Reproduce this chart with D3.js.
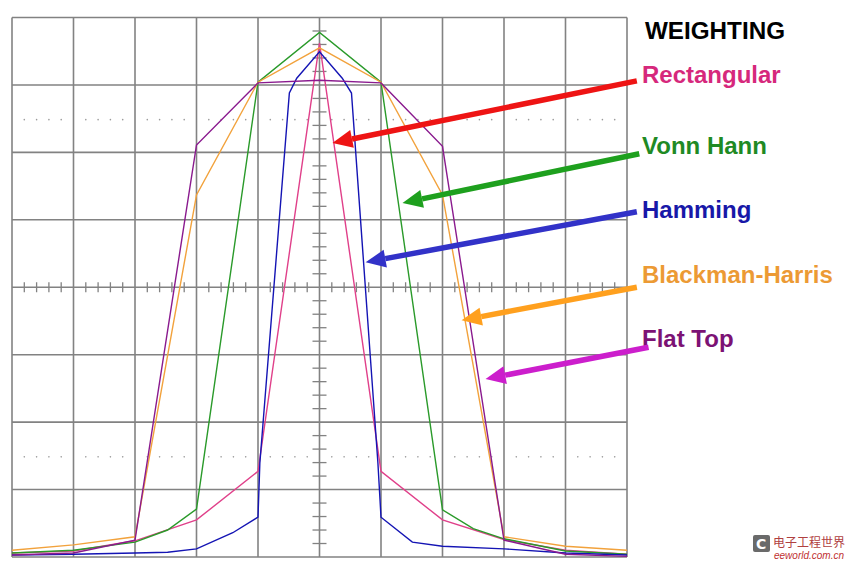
<!DOCTYPE html>
<html>
<head>
<meta charset="utf-8">
<script src="https://cdn.jsdelivr.net/npm/d3@7"></script>
<style>
    html, body { margin: 0; padding: 0; background: #fff; }
    svg { display: block; }
</style>
</head>
<body>
<svg id="chart" width="850" height="569"></svg>
<script>
(function() {
    "use strict";

    // window responses, x in bins from centre, y in tenths of a division
    var rectangular = [[-5, 0.6], [-4, 0.9], [-3, 2.4], [-2, 5.5], [-1, 12.7], [0, 76.2],
        [1, 12.7], [2, 5.5], [3, 2.6], [4, 1.0], [5, 0.4]];
    var vonnHann = [[-5, 0.6], [-4, 1.0], [-3, 2.2], [-2.47, 4.0], [-2, 7.1], [-1, 70.4], [0, 77.8],
        [1, 70.4], [2, 7.0], [2.5, 4.2], [3, 2.7], [4, 0.9], [5, 0.4]];
    var hamming = [[-5, 0.3], [-4, 0.4], [-3, 0.6], [-2.47, 0.7], [-2, 1.2], [-1.41, 3.6], [-1, 5.9],
        [-0.97, 13.9], [-0.49, 68.8], [-0.37, 71.0], [0, 74.9], [0.37, 71.0], [0.52, 68.8],
        [0.95, 13.9], [1, 5.9], [1.51, 2.2], [2, 1.6], [3, 1.2], [4, 0.6], [5, 0.3]];
    var blackmanHarris = [[-5, 1.0], [-4, 1.8], [-3, 3.0], [-2, 53.7], [-1, 70.4], [0, 75.5],
        [1, 70.4], [2, 53.7], [3, 3.0], [4, 1.6], [5, 1.0]];
    var flatTop = [[-5, 0.3], [-4, 0.6], [-3, 2.5], [-2, 61.1], [-1, 70.3], [0, 70.7],
        [1, 70.3], [2, 60.9], [3, 2.5], [4, 0.4], [5, 0.1]];

    var seriesNames = ['Rectangular', 'Vonn Hann', 'Hamming', 'Blackman-Harris', 'Flat Top'];
    var seriesData = [rectangular, vonnHann, hamming, blackmanHarris, flatTop];
    var lineColors = ['#e0408a', '#2a9a2a', '#1414b4', '#f2a23c', '#8a1a8e'];
    var textColors = ['#d6287c', '#1f8a24', '#1818a8', '#ec9a34', '#7c1274'];
    var arrowColors = ['#ee1414', '#1ea01e', '#3232c8', '#ffa01e', '#cc1ecc'];
    // arrow tail/tip in data space [x, y]
    var arrowTails = [[5.16, 70.6], [5.2, 59.8], [5.16, 51.2], [5.16, 40.0], [5.35, 31.1]];
    var arrowTips = [[0.21, 61.4], [1.35, 52.5], [0.75, 43.7], [2.31, 35.1], [2.7, 26.4]];

    var xDivs = d3.range(-5, 6);
    var yDivs = d3.range(0, 90, 10);

    var svg = d3.select('#chart');
    var x = d3.scaleLinear().domain([-5, 5]).range([12, 627]);
    var y = d3.scaleLinear().domain([0, 80]).range([557, 17.5]);

    var grid = svg.append('g').attr('class', 'grid');
    grid.selectAll('line.v').data(xDivs).enter().append('line')
        .attr('x1', function (d) { return x(d); })
        .attr('x2', function (d) { return x(d); })
        .attr('y1', y(0)).attr('y2', y(80))
        .attr('stroke', '#828282').attr('stroke-width', 1.6);
    grid.selectAll('line.h').data(yDivs).enter().append('line')
        .attr('y1', function (d) { return y(d); })
        .attr('y2', function (d) { return y(d); })
        .attr('x1', x(-5)).attr('x2', x(5))
        .attr('stroke', '#828282').attr('stroke-width', 1.6);

    // minor ticks on the centre cross
    var minorX = d3.range(-5, 5.01, 0.2).filter(function (d) { return Math.abs(d - Math.round(d)) > 0.01; });
    var minorY = d3.range(0, 80.01, 2).filter(function (d) { return d % 10 !== 0; });
    grid.selectAll('line.mx').data(minorX).enter().append('line')
        .attr('x1', function (d) { return x(d); })
        .attr('x2', function (d) { return x(d); })
        .attr('y1', y(40) - 5).attr('y2', y(40) + 5)
        .attr('stroke', '#828282').attr('stroke-width', 1.3);
    grid.selectAll('line.my').data(minorY).enter().append('line')
        .attr('y1', function (d) { return y(d); })
        .attr('y2', function (d) { return y(d); })
        .attr('x1', x(0) - 7).attr('x2', x(0) + 7)
        .attr('stroke', '#828282').attr('stroke-width', 1.3);

    // dotted reference rows
    [65, 15].forEach(function (level) {
        grid.selectAll(null).data(minorX).enter().append('circle')
            .attr('cx', function (d) { return x(d); })
            .attr('cy', y(level) + 1)
            .attr('r', 0.8)
            .attr('fill', '#9a9a9a');
    });

    var line = d3.line()
        .x(function (d) { return x(d[0]); })
        .y(function (d) { return y(d[1]); });

    svg.append('g').attr('class', 'curves').selectAll('path')
        .data(seriesData).enter().append('path')
        .attr('d', line)
        .attr('fill', 'none')
        .attr('stroke', function (d, i) { return lineColors[i]; })
        .attr('stroke-width', 1.4);

    // legend title and labels
    svg.append('text')
        .attr('x', 645).attr('y', 39)
        .attr('font-family', 'Liberation Sans, Arial, sans-serif')
        .attr('font-weight', 'bold').attr('font-size', 23)
        .attr('textLength', 140).attr('lengthAdjust', 'spacingAndGlyphs')
        .text('WEIGHTING');

    var labelY = [83, 154, 218, 283, 347];
    svg.append('g').selectAll('text').data(seriesNames).enter().append('text')
        .attr('x', 642)
        .attr('y', function (d, i) { return labelY[i]; })
        .attr('font-family', 'Liberation Sans, Arial, sans-serif')
        .attr('font-weight', 'bold').attr('font-size', 24)
        .attr('fill', function (d, i) { return textColors[i]; })
        .text(function (d) { return d; });

    // arrows
    var arrows = svg.append('g').attr('class', 'arrows');
    seriesNames.forEach(function (name, i) {
        var x0 = x(arrowTails[i][0]), y0 = y(arrowTails[i][1]);
        var x1 = x(arrowTips[i][0]), y1 = y(arrowTips[i][1]);
        var a = Math.atan2(y1 - y0, x1 - x0);
        var len = 20, half = 9;
        var bx = x1 - len * Math.cos(a), by = y1 - len * Math.sin(a);
        arrows.append('line')
            .attr('x1', x0).attr('y1', y0).attr('x2', bx).attr('y2', by)
            .attr('stroke', arrowColors[i]).attr('stroke-width', 5.5);
        arrows.append('path')
            .attr('d', 'M' + x1 + ',' + y1 +
                'L' + (bx + half * Math.sin(a)) + ',' + (by - half * Math.cos(a)) +
                'L' + (bx - half * Math.sin(a)) + ',' + (by + half * Math.cos(a)) + 'Z')
            .attr('fill', arrowColors[i]);
    });

    // watermark
    var mark = svg.append('g').attr('class', 'watermark');
    mark.append('rect').attr('x', 753).attr('y', 535).attr('width', 17).attr('height', 17)
        .attr('rx', 2).attr('fill', '#6a6a6a');
    mark.append('text').attr('x', 756).attr('y', 549).attr('font-size', 14)
        .attr('font-family', 'DejaVu Sans, sans-serif').attr('font-weight', 'bold')
        .attr('fill', '#fff').text('C');
    mark.append('text').attr('x', 773).attr('y', 547).attr('font-size', 12)
        .attr('font-family', 'Noto Sans CJK SC, sans-serif').attr('fill', '#b04040')
        .text('电子工程世界');
    mark.append('text').attr('x', 774).attr('y', 559).attr('font-size', 10)
        .attr('font-family', 'Liberation Sans, sans-serif').attr('font-style', 'italic')
        .attr('fill', '#c03030').text('eeworld.com.cn');
}).call(this);
</script>
</body>
</html>
